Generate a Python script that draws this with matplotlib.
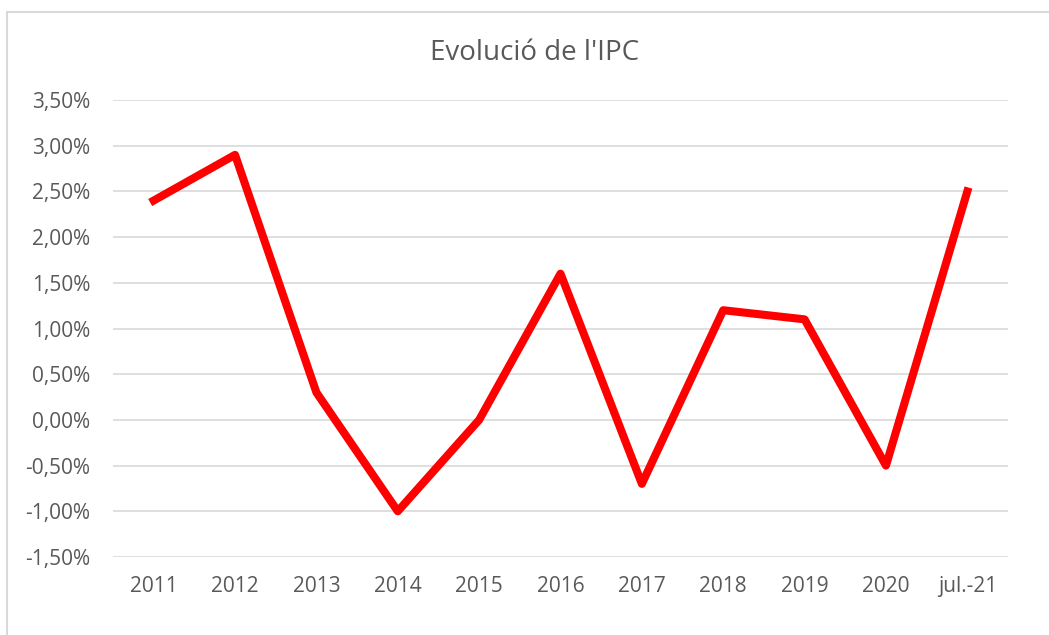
import matplotlib.pyplot as plt
import matplotlib.patches as patches
from matplotlib.ticker import FuncFormatter

# Data
years = ['2011', '2012', '2013', '2014', '2015', '2016', '2017', '2018', '2019', '2020', 'jul.-21']
ipc = [2.4, 2.9, 0.3, -1.0, 0.0, 1.6, -0.7, 1.2, 1.1, -0.5, 2.5]
y_ticks = [-1.5, -1.0, -0.5, 0.0, 0.5, 1.0, 1.5, 2.0, 2.5, 3.0, 3.5]

W, H = 1049, 635
fig = plt.figure(figsize=(W / 100, H / 100), dpi=100)
plt.rcParams['font.family'] = ['Open Sans', 'DejaVu Sans']

# chart border (cut by the image on the right and bottom)
border = patches.Rectangle((7 / W, 1 - 1000 / H), 1100 / W, (1000 - 12) / H,
                           transform=fig.transFigure, fill=False,
                           edgecolor='#d9d9d9', linewidth=1.5, clip_on=False)
fig.patches.append(border)

ax = fig.add_axes([113 / W, 1 - 557 / H, (1008 - 113) / W, (557 - 100) / H])

x = list(range(len(years)))
ax.plot(x, ipc, color='#ff0000', linewidth=5.8, solid_joinstyle='round', zorder=3)

ax.set_xlim(-0.5, len(years) - 0.5)
ax.set_ylim(-1.5, 3.5)
ax.set_yticks(y_ticks)
ax.yaxis.set_major_formatter(FuncFormatter(lambda v, p: f'{v:.2f}%'.replace('.', ',')))
ax.set_xticks(x)
ax.set_xticklabels(years)

ax.grid(axis='y', color='#d9d9d9', linewidth=1.2)
ax.set_axisbelow(True)
for s in ax.spines.values():
    s.set_visible(False)
ax.tick_params(length=0, labelsize=15, colors='#595959')
ax.tick_params(axis='y', pad=16.5)
ax.tick_params(axis='x', pad=13.5)

fig.text(535 / W, 1 - 53 / H, "Evolució de l'IPC", ha='center', va='center',
         fontsize=20, color='#595959')

fig.savefig('out.png', dpi=100)
